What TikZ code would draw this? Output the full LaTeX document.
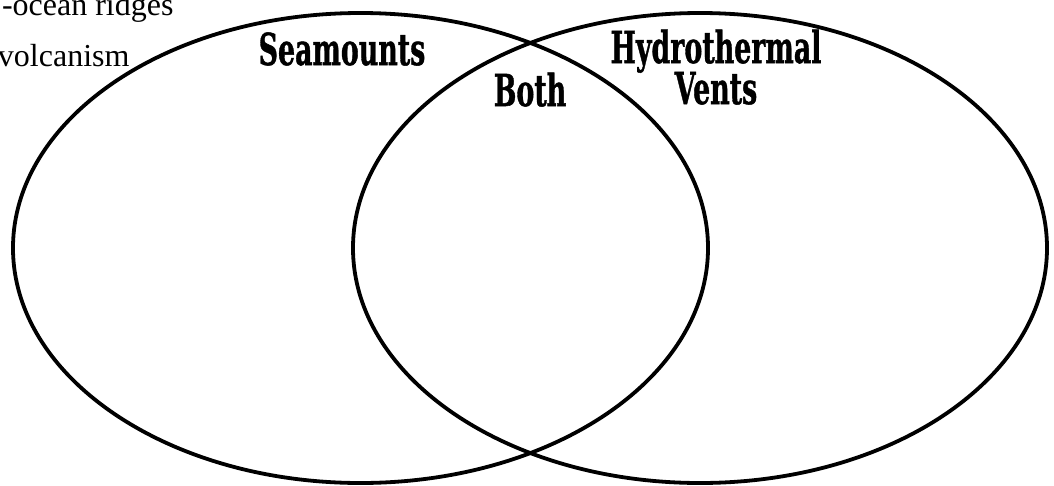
\documentclass[tikz,border=0pt]{standalone}
\usepackage{fontspec}
\setmainfont{Liberation Serif}
\newfontfamily\headfont{DejaVu Serif}[BoldFeatures={FakeBold=1.2}]
\usetikzlibrary{shapes.geometric}
\newcommand{\headtext}[1]{\scalebox{0.61}[1]{\headfont\bfseries\fontsize{44}{50}\selectfont #1}}
\tikzset{
  venn/.style={ellipse, draw=black, line width=3.8pt, inner sep=0pt, outer sep=0pt},
  plain/.style={inner sep=0pt, outer sep=0pt, font=\fontsize{32}{36}\selectfont},
  head/.style={inner sep=0pt, outer sep=0pt, anchor=base}
}
\begin{document}
\begin{tikzpicture}[x=1pt,y=-1pt]
\useasboundingbox[fill=white] (0,0) rectangle (1054,485);
\node[venn, minimum width=695pt, minimum height=470pt] (L) at (360.5,248) {};
\node[venn, minimum width=694pt, minimum height=470pt] (R) at (700,248) {};
\node[plain, anchor=base west] (t1) at (2,15) {-ocean ridges};
\node[plain, anchor=base west] (t2) at (-2,66) {volcanism};
\node[head] (sea) at (342,65) {\headtext{Seamounts}};
\node[head] (both) at (530,106) {\headtext{Both}};
\node[head] (hyd) at (716,63) {\headtext{Hydrothermal}};
\node[head] (vents) at (716,104) {\headtext{Vents}};
\end{tikzpicture}
\end{document}
